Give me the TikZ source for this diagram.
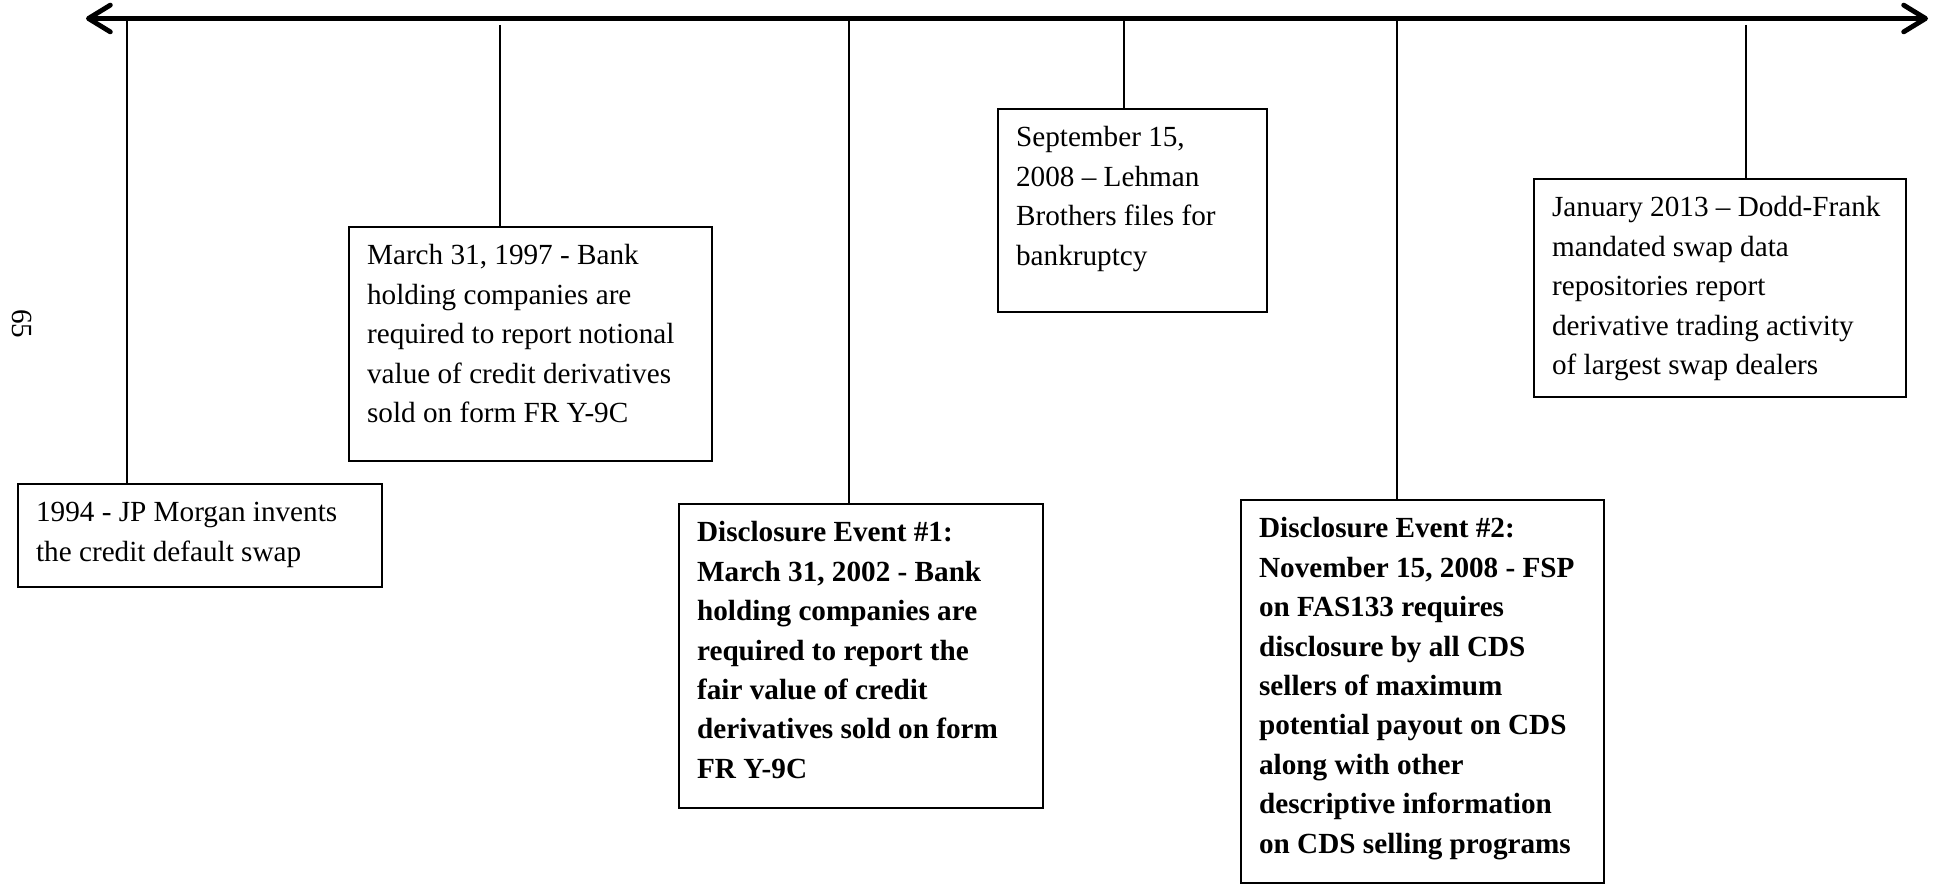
\documentclass[tikz,border=0pt]{standalone}
\usepackage{fontspec}
\setmainfont{Liberation Serif}
\usepackage{tikz}
\usetikzlibrary{arrows.meta}

% texte d'un evenement, aligne en haut de la boite
\newcommand{\evtext}[3]{\parbox[t][#2][t]{#1}{\raggedright\strut#3}}

\tikzset{
  evbox/.style={draw, line width=0.7pt, anchor=north west, inner xsep=7.5pt, inner ysep=4.3pt,
    font=\fontsize{12}{16.2}\selectfont},
  evbold/.style={evbox, font=\fontsize{12}{16.2}\selectfont\bfseries},
  tick/.style={line width=0.6pt},
  axis/.style={line width=2pt, {Straight Barb[length=9pt, width=11pt, round]}-{Straight Barb[length=9pt, width=11pt, round]}}
}

\begin{document}
\begin{tikzpicture}[x=0.411pt, y=-0.411pt]
    \useasboundingbox (0,0) rectangle (1934,884);

    % Axe du temps
    \coordinate (left) at (86,18.5);
    \coordinate (right) at (1928,18.5);

    % Points sur l'axe
    \coordinate (t1) at (127,18.5);
    \coordinate (t2) at (500,25);
    \coordinate (t3) at (849,18.5);
    \coordinate (t4) at (1124,18.5);
    \coordinate (t5) at (1397,18.5);
    \coordinate (t6) at (1746,25);

    % Boites des evenements
    \node[evbox] (e1) at (17,483) {\evtext{134.6pt}{33.7pt}{1994 - JP Morgan invents\\ the credit default swap}};
    \node[evbox] (e2) at (348,226) {\evtext{134.2pt}{87.6pt}{March 31, 1997 - Bank\\ holding companies are\\ required to report notional\\ value of credit derivatives\\ sold on form FR Y-9C}};
    \node[evbold] (e3) at (678,503) {\evtext{134.6pt}{116.4pt}{Disclosure Event \#1:\\ March 31, 2002 - Bank\\ holding companies are\\ required to report the\\ fair value of credit\\ derivatives sold on form\\ FR Y-9C}};
    \node[evbox] (e4) at (997,108) {\evtext{95.6pt}{74.8pt}{September 15,\\ 2008 -- Lehman\\ Brothers files for\\ bankruptcy}};
    \node[evbold] (e5) at (1240,499) {\evtext{134.2pt}{148.8pt}{Disclosure Event \#2:\\ November 15, 2008 - FSP\\ on FAS133 requires\\ disclosure by all CDS\\ sellers of maximum\\ potential payout on CDS\\ along with other\\ descriptive information\\ on CDS selling programs}};
    \node[evbox] (e6) at (1533,178) {\evtext{137.9pt}{81pt}{January 2013 -- Dodd-Frank\\ mandated swap data\\ repositories report\\ derivative trading activity\\ of largest swap dealers}};

    % Traits vers les boites
    \draw[tick] (t1) -- (t1 |- e1.north);
    \draw[tick] (t2) -- (t2 |- e2.north);
    \draw[tick] (t3) -- (t3 |- e3.north);
    \draw[tick] (t4) -- (t4 |- e4.north);
    \draw[tick] (t5) -- (t5 |- e5.north);
    \draw[tick] (t6) -- (t6 |- e6.north);

    \draw[axis] (left) -- (right);

    % Numero de page
    \node[rotate=-90, font=\fontsize{12}{14}\selectfont] (page) at (22,324) {65};
\end{tikzpicture}
\end{document}
